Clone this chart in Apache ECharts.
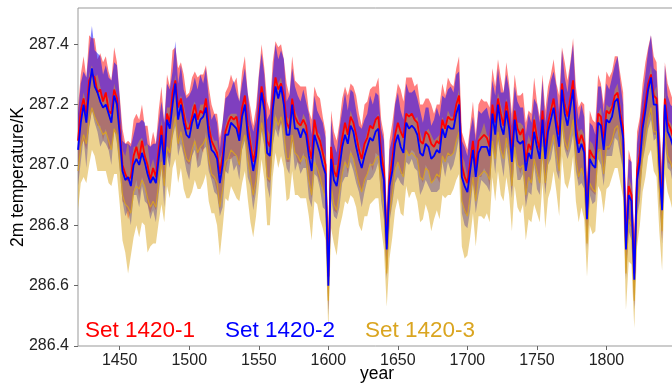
<!DOCTYPE html>
<html lang="en">
<head>
    <meta charset="UTF-8">
    <title>2m temperature</title>
    <script src="https://cdn.jsdelivr.net/npm/echarts@6/dist/echarts.min.js"></script>
    <style>
        html, body { margin: 0; padding: 0; background: #fff; }
        #chart { width: 672px; height: 384px; }
    </style>
</head>
<body>
    <div id="chart"></div>
    <script type="text/javascript">
        // years, every second year
        var years = [
            1420, 1422, 1424, 1426, 1428, 1430, 1432, 1434, 1436, 1438,
            1440, 1442, 1444, 1446, 1448, 1450, 1452, 1454, 1456, 1458,
            1460, 1462, 1464, 1466, 1468, 1470, 1472, 1474, 1476, 1478,
            1480, 1482, 1484, 1486, 1488, 1490, 1492, 1494, 1496, 1498,
            1500, 1502, 1504, 1506, 1508, 1510, 1512, 1514, 1516, 1518,
            1520, 1522, 1524, 1526, 1528, 1530, 1532, 1534, 1536, 1538,
            1540, 1542, 1544, 1546, 1548, 1550, 1552, 1554, 1556, 1558,
            1560, 1562, 1564, 1566, 1568, 1570, 1572, 1574, 1576, 1578,
            1580, 1582, 1584, 1586, 1588, 1590, 1592, 1594, 1596, 1598,
            1600, 1602, 1604, 1606, 1608, 1610, 1612, 1614, 1616, 1618,
            1620, 1622, 1624, 1626, 1628, 1630, 1632, 1634, 1636, 1638,
            1640, 1642, 1644, 1646, 1648, 1650, 1652, 1654, 1656, 1658,
            1660, 1662, 1664, 1666, 1668, 1670, 1672, 1674, 1676, 1678,
            1680, 1682, 1684, 1686, 1688, 1690, 1692, 1694, 1696, 1698,
            1700, 1702, 1704, 1706, 1708, 1710, 1712, 1714, 1716, 1718,
            1720, 1722, 1724, 1726, 1728, 1730, 1732, 1734, 1736, 1738,
            1740, 1742, 1744, 1746, 1748, 1750, 1752, 1754, 1756, 1758,
            1760, 1762, 1764, 1766, 1768, 1770, 1772, 1774, 1776, 1778,
            1780, 1782, 1784, 1786, 1788, 1790, 1792, 1794, 1796, 1798,
            1800, 1802, 1804, 1806, 1808, 1810, 1812, 1814, 1816, 1818,
            1820, 1822, 1824, 1826, 1828, 1830, 1832, 1834, 1836, 1838,
            1840, 1842, 1844, 1846, 1848, 1850
        ];

        // ensemble means (K)
        var set1Mean = [
            287.08, 287.18, 287.22, 287.17, 287.28, 287.30, 287.29, 287.24, 287.25, 287.21,
            287.24, 287.18, 287.17, 287.25, 287.22, 287.12, 287.00, 286.97, 286.95, 286.96,
            287.03, 287.06, 287.02, 287.08, 287.03, 287.00, 286.95, 286.99, 286.96, 287.05,
            287.13, 287.03, 287.17, 287.14, 287.24, 287.28, 287.19, 287.22, 287.17, 287.12,
            287.12, 287.16, 287.20, 287.15, 287.18, 287.17, 287.22, 287.13, 287.08, 287.06,
            287.04, 286.97, 287.03, 287.11, 287.14, 287.16, 287.15, 287.16, 287.10, 287.19,
            287.23, 287.13, 287.07, 287.01, 287.06, 287.18, 287.26, 287.21, 287.08, 287.06,
            287.21, 287.29, 287.25, 287.27, 287.23, 287.14, 287.12, 287.22, 287.16, 287.14,
            287.13, 287.15, 287.13, 287.06, 287.02, 287.15, 287.10, 287.08, 287.04, 287.00,
            286.63, 287.06, 286.98, 286.96, 287.03, 287.09, 287.14, 287.10, 287.16, 287.14,
            287.10, 287.05, 287.02, 287.07, 287.09, 287.13, 287.12, 287.15, 287.16, 287.04,
            286.98, 286.74, 286.95, 287.02, 287.10, 287.14, 287.11, 287.09, 287.17, 287.16,
            287.17, 287.15, 287.14, 287.08, 287.07, 287.11, 287.10, 287.07, 287.06, 287.08,
            287.07, 287.15, 287.12, 287.16, 287.15, 287.15, 287.20, 287.23, 287.00, 286.96,
            286.94, 287.01, 287.08, 286.99, 287.08, 287.09, 287.10, 287.09, 287.06, 287.20,
            287.14, 287.22, 287.17, 287.13, 287.21, 287.15, 287.04, 287.18, 287.12, 287.10,
            287.12, 287.01, 287.07, 287.05, 287.15, 287.09, 287.05, 287.18, 287.05, 287.14,
            287.18, 287.22, 287.15, 287.10, 287.27, 287.20, 287.16, 287.22, 287.28, 287.13,
            287.07, 287.10, 287.07, 286.84, 287.05, 287.03, 287.02, 287.17, 287.16, 287.08,
            287.18, 287.17, 287.19, 287.23, 287.24, 287.17, 287.12, 286.74, 286.93, 286.90,
            286.64, 286.98, 287.04, 287.15, 287.21, 287.27, 287.30, 287.23, 287.22, 287.03,
            286.87, 287.22, 287.14, 287.12, 287.09, 287.08
        ];
        var set2Mean = [
            287.05, 287.14, 287.20, 287.14, 287.25, 287.32, 287.26, 287.24, 287.21, 287.19,
            287.20, 287.17, 287.14, 287.23, 287.20, 287.10, 286.98, 286.95, 286.96, 286.93,
            287.00, 287.02, 287.00, 287.04, 287.01, 286.97, 286.94, 286.96, 286.94, 287.02,
            287.10, 287.00, 287.15, 287.12, 287.20, 287.27, 287.15, 287.20, 287.14, 287.10,
            287.09, 287.14, 287.17, 287.12, 287.15, 287.16, 287.19, 287.10, 287.05, 287.04,
            287.02, 286.94, 287.00, 287.10, 287.10, 287.14, 287.13, 287.12, 287.08, 287.16,
            287.20, 287.10, 287.04, 286.98, 287.03, 287.15, 287.24, 287.18, 287.04, 287.03,
            287.18, 287.26, 287.22, 287.26, 287.20, 287.10, 287.10, 287.20, 287.12, 287.12,
            287.09, 287.12, 287.10, 287.03, 286.98, 287.10, 287.07, 287.04, 287.00, 286.97,
            286.60, 287.02, 286.95, 286.93, 286.99, 287.06, 287.10, 287.07, 287.13, 287.11,
            287.06, 287.02, 286.99, 287.03, 287.06, 287.09, 287.08, 287.11, 287.12, 287.00,
            286.95, 286.72, 286.93, 286.98, 287.07, 287.10, 287.06, 287.04, 287.14, 287.12,
            287.13, 287.12, 287.10, 287.04, 287.03, 287.07, 287.06, 287.02, 287.03, 287.05,
            287.04, 287.12, 287.09, 287.13, 287.12, 287.12, 287.17, 287.20, 286.96, 286.93,
            286.91, 286.98, 287.05, 286.96, 287.04, 287.06, 287.06, 287.06, 287.03, 287.17,
            287.10, 287.20, 287.13, 287.10, 287.18, 287.12, 287.01, 287.15, 287.08, 287.07,
            287.08, 286.98, 287.04, 287.02, 287.11, 287.06, 287.02, 287.15, 287.02, 287.11,
            287.15, 287.19, 287.12, 287.06, 287.25, 287.17, 287.13, 287.19, 287.25, 287.10,
            287.04, 287.07, 287.04, 286.82, 287.02, 287.00, 286.99, 287.14, 287.13, 287.05,
            287.15, 287.14, 287.16, 287.21, 287.22, 287.15, 287.09, 286.72, 286.90, 286.88,
            286.62, 286.95, 287.01, 287.12, 287.18, 287.25, 287.29, 287.20, 287.20, 287.00,
            286.85, 287.20, 287.11, 287.09, 287.06, 287.06
        ];
        var set3Mean = [
            286.98, 287.06, 287.10, 287.07, 287.15, 287.19, 287.16, 287.14, 287.12, 287.10,
            287.11, 287.08, 287.05, 287.12, 287.10, 287.01, 286.90, 286.87, 286.86, 286.84,
            286.91, 286.93, 286.92, 286.95, 286.93, 286.89, 286.86, 286.88, 286.86, 286.94,
            287.01, 286.93, 287.06, 287.04, 287.11, 287.16, 287.07, 287.11, 287.06, 287.02,
            287.01, 287.05, 287.08, 287.04, 287.06, 287.07, 287.09, 287.02, 286.97, 286.96,
            286.94, 286.86, 286.92, 287.01, 287.02, 287.05, 287.04, 287.03, 287.00, 287.07,
            287.10, 287.02, 286.96, 286.90, 286.95, 287.06, 287.14, 287.09, 286.96, 286.95,
            287.09, 287.16, 287.13, 287.16, 287.11, 287.02, 287.02, 287.10, 287.04, 287.03,
            287.01, 287.03, 287.02, 286.95, 286.90, 287.01, 286.99, 286.96, 286.92, 286.89,
            286.55, 286.93, 286.87, 286.85, 286.91, 286.97, 287.01, 286.99, 287.04, 287.02,
            286.98, 286.94, 286.91, 286.95, 286.97, 287.00, 287.00, 287.02, 287.03, 286.92,
            286.87, 286.64, 286.84, 286.90, 286.98, 287.01, 286.98, 286.96, 287.05, 287.03,
            287.04, 287.03, 287.02, 286.96, 286.95, 286.99, 286.98, 286.94, 286.95, 286.97,
            286.96, 287.03, 287.01, 287.04, 287.03, 287.04, 287.08, 287.11, 286.88, 286.85,
            286.83, 286.90, 286.96, 286.88, 286.96, 286.97, 286.98, 286.97, 286.95, 287.08,
            287.02, 287.11, 287.05, 287.02, 287.09, 287.04, 286.93, 287.06, 287.00, 286.99,
            287.00, 286.90, 286.96, 286.94, 287.02, 286.98, 286.94, 287.06, 286.94, 287.02,
            287.06, 287.10, 287.04, 286.98, 287.15, 287.08, 287.05, 287.10, 287.15, 287.02,
            286.96, 286.99, 286.96, 286.74, 286.94, 286.92, 286.91, 287.05, 287.05, 286.97,
            287.06, 287.06, 287.08, 287.12, 287.13, 287.07, 287.01, 286.64, 286.82, 286.80,
            286.55, 286.87, 286.93, 287.03, 287.09, 287.15, 287.19, 287.11, 287.11, 286.92,
            286.78, 287.11, 287.03, 287.01, 286.98, 286.98
        ];

        // half width of the shaded ensemble range (K)
        var set1Spread = [
            0.11, 0.12, 0.14, 0.12, 0.15, 0.12, 0.13, 0.11, 0.12, 0.13,
            0.12, 0.13, 0.11, 0.14, 0.12, 0.11, 0.12, 0.10, 0.13, 0.11,
            0.12, 0.11, 0.13, 0.12, 0.10, 0.13, 0.11, 0.12, 0.11, 0.13,
            0.13, 0.11, 0.13, 0.12, 0.14, 0.11, 0.13, 0.12, 0.13, 0.11,
            0.12, 0.13, 0.11, 0.14, 0.12, 0.13, 0.11, 0.13, 0.12, 0.11,
            0.13, 0.12, 0.11, 0.13, 0.12, 0.14, 0.12, 0.13, 0.11, 0.12,
            0.13, 0.11, 0.12, 0.12, 0.13, 0.12, 0.14, 0.11, 0.13, 0.12,
            0.13, 0.12, 0.14, 0.13, 0.12, 0.13, 0.11, 0.14, 0.12, 0.13,
            0.13, 0.11, 0.13, 0.12, 0.13, 0.11, 0.13, 0.14, 0.12, 0.11,
            0.11, 0.12, 0.13, 0.12, 0.11, 0.13, 0.12, 0.13, 0.11, 0.12,
            0.13, 0.12, 0.11, 0.13, 0.12, 0.12, 0.14, 0.11, 0.13, 0.11,
            0.12, 0.11, 0.13, 0.12, 0.11, 0.13, 0.14, 0.12, 0.12, 0.13,
            0.12, 0.11, 0.13, 0.12, 0.13, 0.11, 0.12, 0.13, 0.11, 0.12,
            0.13, 0.12, 0.11, 0.13, 0.12, 0.11, 0.12, 0.13, 0.11, 0.12,
            0.11, 0.12, 0.13, 0.11, 0.12, 0.13, 0.11, 0.12, 0.13, 0.12,
            0.12, 0.13, 0.12, 0.11, 0.13, 0.12, 0.13, 0.12, 0.11, 0.13,
            0.12, 0.13, 0.11, 0.12, 0.14, 0.12, 0.11, 0.12, 0.13, 0.12,
            0.12, 0.13, 0.12, 0.13, 0.12, 0.14, 0.12, 0.12, 0.14, 0.13,
            0.12, 0.11, 0.13, 0.11, 0.13, 0.12, 0.12, 0.13, 0.11, 0.12,
            0.13, 0.12, 0.12, 0.13, 0.12, 0.13, 0.12, 0.11, 0.12, 0.11,
            0.11, 0.13, 0.12, 0.12, 0.13, 0.12, 0.13, 0.13, 0.12, 0.11,
            0.12, 0.12, 0.13, 0.12, 0.12, 0.11
        ];
        var set2Spread = [
            0.12, 0.13, 0.11, 0.15, 0.13, 0.14, 0.12, 0.13, 0.15, 0.11,
            0.13, 0.12, 0.14, 0.11, 0.13, 0.12, 0.10, 0.12, 0.11, 0.13,
            0.10, 0.12, 0.14, 0.11, 0.13, 0.10, 0.12, 0.11, 0.13, 0.12,
            0.11, 0.14, 0.12, 0.13, 0.11, 0.14, 0.12, 0.13, 0.11, 0.12,
            0.14, 0.11, 0.12, 0.13, 0.15, 0.11, 0.13, 0.12, 0.10, 0.13,
            0.12, 0.11, 0.14, 0.12, 0.13, 0.11, 0.15, 0.12, 0.13, 0.11,
            0.12, 0.14, 0.11, 0.13, 0.12, 0.14, 0.13, 0.12, 0.11, 0.14,
            0.12, 0.14, 0.13, 0.12, 0.15, 0.11, 0.13, 0.12, 0.14, 0.11,
            0.12, 0.13, 0.11, 0.14, 0.12, 0.13, 0.11, 0.12, 0.14, 0.12,
            0.10, 0.13, 0.12, 0.11, 0.13, 0.12, 0.14, 0.11, 0.12, 0.13,
            0.12, 0.11, 0.13, 0.12, 0.11, 0.14, 0.12, 0.13, 0.11, 0.12,
            0.13, 0.10, 0.12, 0.11, 0.13, 0.14, 0.12, 0.11, 0.13, 0.12,
            0.11, 0.13, 0.12, 0.14, 0.11, 0.12, 0.13, 0.11, 0.12, 0.14,
            0.12, 0.11, 0.13, 0.12, 0.14, 0.12, 0.13, 0.11, 0.12, 0.13,
            0.12, 0.13, 0.11, 0.12, 0.14, 0.11, 0.12, 0.13, 0.12, 0.11,
            0.13, 0.12, 0.11, 0.14, 0.12, 0.13, 0.12, 0.11, 0.13, 0.12,
            0.11, 0.12, 0.13, 0.12, 0.11, 0.14, 0.12, 0.13, 0.12, 0.11,
            0.13, 0.12, 0.14, 0.11, 0.13, 0.12, 0.11, 0.14, 0.15, 0.12,
            0.11, 0.13, 0.12, 0.10, 0.12, 0.13, 0.11, 0.12, 0.13, 0.12,
            0.12, 0.11, 0.13, 0.12, 0.14, 0.12, 0.11, 0.10, 0.12, 0.13,
            0.10, 0.12, 0.13, 0.11, 0.12, 0.13, 0.14, 0.12, 0.11, 0.12,
            0.11, 0.13, 0.12, 0.11, 0.13, 0.12
        ];
        var set3Spread = [
            0.13, 0.12, 0.14, 0.13, 0.15, 0.14, 0.13, 0.16, 0.14, 0.12,
            0.13, 0.14, 0.12, 0.15, 0.13, 0.14, 0.15, 0.16, 0.22, 0.14,
            0.15, 0.13, 0.16, 0.14, 0.13, 0.18, 0.13, 0.14, 0.12, 0.13,
            0.14, 0.12, 0.13, 0.15, 0.12, 0.14, 0.13, 0.12, 0.14, 0.13,
            0.12, 0.14, 0.13, 0.12, 0.14, 0.13, 0.12, 0.14, 0.13, 0.12,
            0.14, 0.16, 0.13, 0.12, 0.14, 0.12, 0.13, 0.14, 0.12, 0.13,
            0.12, 0.13, 0.15, 0.14, 0.12, 0.13, 0.12, 0.14, 0.16, 0.15,
            0.13, 0.12, 0.14, 0.13, 0.12, 0.14, 0.13, 0.12, 0.14, 0.13,
            0.12, 0.14, 0.13, 0.12, 0.15, 0.13, 0.12, 0.14, 0.13, 0.14,
            0.10, 0.14, 0.13, 0.15, 0.12, 0.14, 0.13, 0.12, 0.14, 0.13,
            0.12, 0.14, 0.13, 0.12, 0.14, 0.13, 0.12, 0.13, 0.14, 0.13,
            0.15, 0.11, 0.15, 0.14, 0.13, 0.12, 0.14, 0.13, 0.12, 0.14,
            0.13, 0.12, 0.14, 0.15, 0.13, 0.12, 0.14, 0.16, 0.13, 0.12,
            0.14, 0.13, 0.12, 0.14, 0.13, 0.12, 0.13, 0.14, 0.15, 0.16,
            0.13, 0.14, 0.12, 0.15, 0.13, 0.14, 0.16, 0.13, 0.14, 0.12,
            0.14, 0.13, 0.15, 0.14, 0.13, 0.14, 0.15, 0.13, 0.14, 0.15,
            0.13, 0.15, 0.14, 0.13, 0.15, 0.14, 0.13, 0.12, 0.15, 0.13,
            0.14, 0.12, 0.13, 0.15, 0.12, 0.14, 0.13, 0.14, 0.12, 0.14,
            0.15, 0.13, 0.14, 0.11, 0.14, 0.15, 0.13, 0.12, 0.14, 0.13,
            0.14, 0.13, 0.12, 0.13, 0.14, 0.13, 0.12, 0.12, 0.14, 0.13,
            0.09, 0.14, 0.13, 0.12, 0.13, 0.12, 0.14, 0.13, 0.15, 0.14,
            0.13, 0.14, 0.12, 0.13, 0.14, 0.13
        ];

        var setNames = ['Set 1420-1', 'Set 1420-2', 'Set 1420-3'];
        var xTicks = [1450, 1500, 1550, 1600, 1650, 1700, 1750, 1800];
        var yTicks = [286.4, 286.6, 286.8, 287.0, 287.2, 287.4];

        var colors = ['#ff0000', '#0000ff', '#daa520'];
        var means = [set1Mean, set2Mean, set3Mean];
        var spreads = [set1Spread, set2Spread, set3Spread];

        function pairs(vals) {
            return vals.map(function (v, i) { return [years[i], v]; });
        }

        // shaded range of one set as a single polygon
        function bandSeries(s) {
            var rows = means[s].map(function (v, i) {
                return [years[i], v - spreads[s][i], v + spreads[s][i]];
            });
            return {
                type: 'custom', name: setNames[s] + ' range', silent: true, z: 2,
                data: rows, encode: { x: 0, y: [1, 2] },
                renderItem: function (params, api) {
                    if (params.dataIndex !== 0) return null;
                    var top = [], bottom = [];
                    rows.forEach(function (r) {
                        top.push(api.coord([r[0], r[2]]));
                        bottom.push(api.coord([r[0], r[1]]));
                    });
                    return {
                        type: 'polygon',
                        shape: { points: top.concat(bottom.reverse()) },
                        style: { fill: colors[s], opacity: 0.5 }
                    };
                }
            };
        }

        var series = [bandSeries(0), bandSeries(1), bandSeries(2)];
        // mean lines on top
        [2, 0, 1].forEach(function (s) {
            series.push({
                name: setNames[s], type: 'line', data: pairs(means[s]),
                showSymbol: false, silent: true, z: 3,
                lineStyle: { color: colors[s], width: s === 2 ? 1.2 : 1.8, opacity: s === 2 ? 0.85 : 1 }
            });
        });

        var chart = echarts.init(document.getElementById('chart'));
        var font = 'Liberation Sans';
        var option = {
            animation: false,
            grid: {
                left: 78, top: 8, width: 598, height: 338,
                outerBoundsMode: 'none', containLabel: false,
                show: true, borderColor: '#999', borderWidth: 1
            },
            xAxis: {
                type: 'value', min: 1420, max: 1850,
                name: 'year', nameLocation: 'middle', nameGap: 19, nameMoveOverlap: false,
                nameTextStyle: { fontFamily: font, fontSize: 17.5, color: '#000', verticalAlign: 'top' },
                axisLine: { show: false },
                axisTick: { show: true, customValues: xTicks, length: 4, lineStyle: { color: '#666' } },
                axisLabel: {
                    customValues: xTicks, fontFamily: font, fontSize: 16, color: '#222', margin: 7,
                    formatter: function (v) { return String(v); }
                },
                splitLine: { show: false }
            },
            yAxis: {
                type: 'value', min: 286.4, max: 287.52,
                name: '2m temperature/K', nameLocation: 'middle', nameGap: 51, nameMoveOverlap: false,
                nameTextStyle: { fontFamily: font, fontSize: 17.5, color: '#000' },
                axisLine: { show: false },
                axisTick: { show: true, customValues: yTicks, length: 4, lineStyle: { color: '#666' } },
                axisLabel: {
                    customValues: yTicks, fontFamily: font, fontSize: 16, color: '#222', margin: 9,
                    formatter: function (v) { return v.toFixed(1); }
                },
                splitLine: { show: false }
            },
            graphic: setNames.map(function (n, i) {
                return {
                    type: 'text', x: 85 + i * 140, y: 331, z: 10,
                    style: {
                        text: n, fill: colors[i], verticalAlign: 'middle',
                        font: '22.5px "Liberation Sans"'
                    }
                };
            }),
            series: series
        };
        chart.setOption(option);
    </script>
</body>
</html>
